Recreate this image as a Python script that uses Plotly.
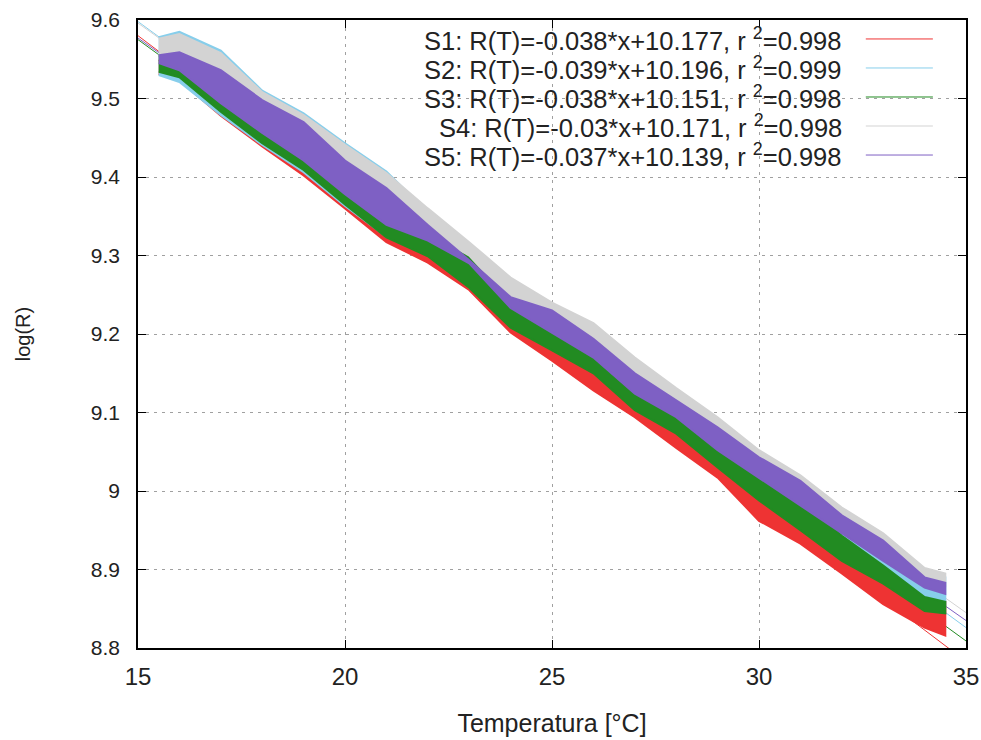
"""Temperature dependence of log(R) for five samples, with linear fits."""

import plotly.graph_objects as go

temps = [15.5, 16, 17, 18, 19, 20, 21, 22, 23, 24, 25, 26, 27, 28, 29, 30, 31, 32, 33, 34, 34.5]

# upper / lower edges of the measured point clouds, log(R)
s1_upper = [9.549, 9.542, 9.498, 9.458, 9.424, 9.380, 9.338, 9.314, 9.274, 9.223, 9.194,
            9.165, 9.118, 9.088, 9.045, 9.003, 8.965, 8.926, 8.897, 8.862, 8.859]
s1_lower = [9.531, 9.523, 9.478, 9.439, 9.402, 9.360, 9.317, 9.291, 9.256, 9.202, 9.166,
            9.128, 9.094, 9.055, 9.017, 8.962, 8.933, 8.895, 8.856, 8.826, 8.816]
s2_upper = [9.578, 9.585, 9.561, 9.510, 9.481, 9.443, 9.407, 9.355, 9.312, 9.267, 9.235,
            9.209, 9.165, 9.126, 9.089, 9.047, 9.015, 8.974, 8.941, 8.897, 8.890]
s2_lower = [9.530, 9.521, 9.479, 9.441, 9.406, 9.363, 9.324, 9.304, 9.275, 9.218, 9.186,
            9.155, 9.109, 9.079, 9.037, 9.001, 8.966, 8.931, 8.896, 8.862, 8.854]
s3_upper = [9.555, 9.546, 9.504, 9.466, 9.431, 9.388, 9.349, 9.329, 9.300, 9.243, 9.211,
            9.180, 9.134, 9.104, 9.062, 9.026, 8.991, 8.943, 8.905, 8.865, 8.859]
s3_lower = [9.534, 9.527, 9.483, 9.443, 9.409, 9.365, 9.323, 9.299, 9.259, 9.208, 9.179,
            9.150, 9.103, 9.073, 9.030, 8.988, 8.950, 8.911, 8.882, 8.847, 8.844]
s4_upper = [9.576, 9.582, 9.558, 9.508, 9.479, 9.441, 9.405, 9.360, 9.317, 9.272, 9.240,
            9.214, 9.170, 9.131, 9.094, 9.052, 9.020, 8.979, 8.946, 8.902, 8.895]
s4_lower = [9.555, 9.546, 9.504, 9.466, 9.431, 9.388, 9.349, 9.329, 9.300, 9.243, 9.211,
            9.180, 9.134, 9.104, 9.062, 9.026, 8.991, 8.956, 8.921, 8.887, 8.879]
s5_upper = [9.555, 9.559, 9.536, 9.498, 9.470, 9.421, 9.386, 9.339, 9.294, 9.247, 9.230,
            9.194, 9.150, 9.115, 9.081, 9.043, 9.013, 8.969, 8.937, 8.890, 8.883]
s5_lower = [9.545, 9.536, 9.494, 9.456, 9.421, 9.378, 9.339, 9.319, 9.290, 9.233, 9.201,
            9.170, 9.124, 9.094, 9.052, 9.016, 8.981, 8.946, 8.911, 8.877, 8.869]

# fitted lines, evaluated at the ends of the x range
fit_x = [15, 35]
s1_fit = [9.580, 8.783]
s2_fit = [9.598, 8.826]
s3_fit = [9.575, 8.809]
s4_fit = [9.596, 8.845]
s5_fit = [9.577, 8.835]

labels = [
    "S1: R(T)=-0.038*x+10.177, r <sup>2</sup>=0.998",
    "S2: R(T)=-0.039*x+10.196, r <sup>2</sup>=0.999",
    "S3: R(T)=-0.038*x+10.151, r <sup>2</sup>=0.998",
    "S4: R(T)=-0.03*x+10.171, r <sup>2</sup>=0.998",
    "S5: R(T)=-0.037*x+10.139, r <sup>2</sup>=0.998",
]
colors = ["#ee3333", "#87ceeb", "#228b22", "#d3d3d3", "#7e60c4"]

y_ticks = [8.8, 8.9, 9.0, 9.1, 9.2, 9.3, 9.4, 9.5, 9.6]
y_ticktext = ["8.8", "8.9", "9", "9.1", "9.2", "9.3", "9.4", "9.5", "9.6"]

bands = [(s1_upper, s1_lower), (s2_upper, s2_lower), (s3_upper, s3_lower),
         (s4_upper, s4_lower), (s5_upper, s5_lower)]
fits = [s1_fit, s2_fit, s3_fit, s4_fit, s5_fit]

FONT = "Liberation Sans, Arial, sans-serif"
TEXT = "#222"

fig = go.Figure()

for fit, color in zip(fits, colors):
    fig.add_trace(go.Scatter(x=fit_x, y=fit, mode="lines",
                             line=dict(color=color, width=1), showlegend=False))

for (upper, lower), color in zip(bands, colors):
    fig.add_trace(go.Scatter(
        x=temps + temps[::-1],
        y=upper + lower[::-1],
        mode="lines",
        fill="toself",
        fillcolor=color,
        line=dict(color=color, width=2),
        showlegend=False,
        hoverinfo="skip",
    ))

# gnuplot-style key: opaque box, text right-aligned, sample line on the right
fig.add_shape(type="rect", xref="paper", yref="paper", x0=0.322, x1=0.995, y0=0.758, y1=0.998,
              fillcolor="white", line_width=0, layer="between")
row_y = [0.9698, 0.9236, 0.8774, 0.8312, 0.785]
for label, color, yy in zip(labels, colors, row_y):
    fig.add_annotation(text=label, xref="paper", yref="paper", x=0.853, y=yy,
                       xanchor="right", yanchor="middle", showarrow=False,
                       font=dict(family=FONT, size=25.5, color=TEXT))
    fig.add_shape(type="line", xref="paper", yref="paper", x0=0.879, x1=0.960, y0=yy, y1=yy,
                  line=dict(color=color, width=1))

axis_common = dict(
    showline=True, linecolor="#000", linewidth=1.5, mirror="ticks",
    ticks="inside", ticklen=8, tickcolor="#000",
    showgrid=True, gridcolor="#a0a0a0", griddash="3px,5px", gridwidth=1,
    zeroline=False, ticklabeloverflow="allow",
)

fig.update_xaxes(range=[15, 35], dtick=5, tick0=15, ticklabelstandoff=6,
                 tickfont=dict(family=FONT, size=24, color=TEXT),
                 title=dict(text="Temperatura [°C]", standoff=26,
                            font=dict(family=FONT, size=25, color=TEXT)),
                 **axis_common)
fig.update_yaxes(range=[8.8, 9.6], tickvals=y_ticks, ticktext=y_ticktext, ticklabelstandoff=12,
                 tickfont=dict(family=FONT, size=21, color=TEXT),
                 title=dict(text="log(R)", standoff=55,
                            font=dict(family=FONT, size=20, color=TEXT)),
                 **axis_common)

fig.update_layout(
    width=981, height=740,
    margin=dict(l=138, r=15, t=20, b=92, autoexpand=False),
    plot_bgcolor="white", paper_bgcolor="white",
    showlegend=False,
)

# drop the default body margin so the figure sits at the page corner
fig.write_html("out.html", config={"displayModeBar": False},
               post_script="document.body.style.margin='0';document.body.style.overflow='hidden';")
